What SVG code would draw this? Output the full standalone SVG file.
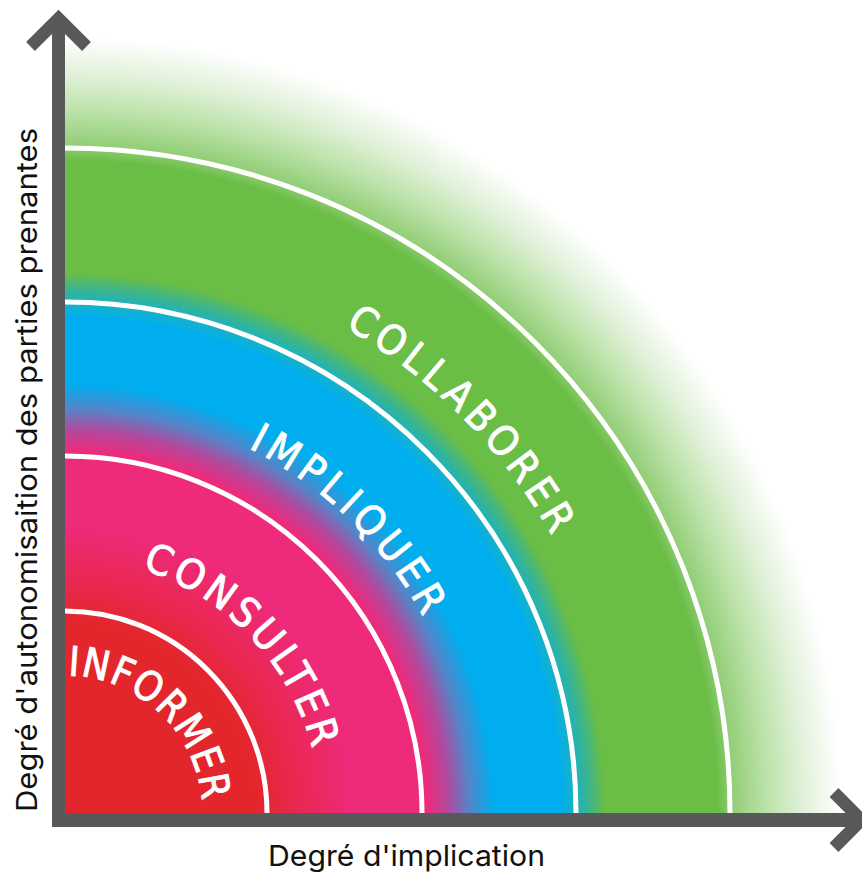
<svg xmlns="http://www.w3.org/2000/svg" width="862" height="872" viewBox="0 0 862 872">
  <style>
    .sep { fill: none; stroke: #FFFFFF; stroke-width: 5; }
    .lbl { font-family: "Liberation Sans Narrow", "DejaVu Sans Condensed", "Roboto Condensed", Roboto, sans-serif; font-stretch: condensed; font-weight: 400; font-size: 41px; fill: #FFFFFF; stroke: #FFFFFF; stroke-width: 0.9; }
    .axis { fill: #58595B; }
    .chev { fill: none; stroke: #58595B; stroke-width: 12.5; stroke-linejoin: miter; stroke-linecap: butt; }
    .ax-lbl { font-family: Inter, "Liberation Sans", sans-serif; font-size: 29px; fill: #111111; }
  </style>
  <defs>
    <radialGradient id="bands" cx="65" cy="813" r="780" fx="65" fy="813" gradientUnits="userSpaceOnUse">
      <stop offset="0" stop-color="#E3262B"/>
      <stop offset="0.245" stop-color="#E3262B"/>
      <stop offset="0.29" stop-color="#E8284C"/>
      <stop offset="0.37" stop-color="#EE2A7B"/>
      <stop offset="0.464" stop-color="#EE2A7B"/>
      <stop offset="0.492" stop-color="#B04A9E"/>
      <stop offset="0.518" stop-color="#5584C8"/>
      <stop offset="0.55" stop-color="#00AEEF"/>
      <stop offset="0.636" stop-color="#00AEEF"/>
      <stop offset="0.656" stop-color="#1DB2BE"/>
      <stop offset="0.673" stop-color="#3DB58A"/>
      <stop offset="0.692" stop-color="#6ABD45"/>
      <stop offset="0.836" stop-color="#6ABD45"/>
      <stop offset="0.856" stop-color="#92CE77"/>
      <stop offset="0.9" stop-color="#BCE2A9"/>
      <stop offset="0.945" stop-color="#E0F1D8"/>
      <stop offset="0.995" stop-color="#FFFFFF"/>
    </radialGradient>
    <path id="p-informer" d="M 65,675.5 A 137.5 137.5 0 0 1 202.5,813"/>
    <path id="p-consulter" d="M 65,557.5 A 255.5 255.5 0 0 1 320.5,813"/>
    <path id="p-impliquer" d="M 65,404.5 A 408.5 408.5 0 0 1 473.5,813"/>
    <path id="p-collaborer" d="M 65,252.5 A 560.5 560.5 0 0 1 625.5,813"/>
  </defs>

  <rect x="0" y="0" width="862" height="872" fill="#FFFFFF"/>

  <g id="rings">
    <rect x="65" y="33" width="780" height="780" fill="url(#bands)"/>
    <path class="sep" d="M 65,611 A 202 202 0 0 1 267,813"/>
    <path class="sep" d="M 65,456 A 357 357 0 0 1 422,813"/>
    <path class="sep" d="M 65,302 A 511 511 0 0 1 576,813"/>
    <path class="sep" d="M 65,148 A 665 665 0 0 1 730,813"/>
  </g>

  <g id="informer">
    <text class="lbl" letter-spacing="1.5"><textPath href="#p-informer" startOffset="3" textLength="202" lengthAdjust="spacingAndGlyphs">INFORMER</textPath></text>
  </g>
  <g id="consulter">
    <text class="lbl" letter-spacing="4"><textPath href="#p-consulter" startOffset="78" textLength="262" lengthAdjust="spacingAndGlyphs">CONSULTER</textPath></text>
  </g>
  <g id="impliquer">
    <text class="lbl" letter-spacing="5.5"><textPath href="#p-impliquer" startOffset="190" textLength="252" lengthAdjust="spacingAndGlyphs">IMPLIQUER</textPath></text>
  </g>
  <g id="collaborer">
    <text class="lbl" letter-spacing="5"><textPath href="#p-collaborer" startOffset="293" textLength="302" lengthAdjust="spacingAndGlyphs">COLLABORER</textPath></text>
  </g>

  <g id="axes">
    <rect class="axis" x="52" y="18" width="13" height="809"/>
    <rect class="axis" x="52" y="813" width="812" height="14"/>
    <polyline class="chev" points="30.5,46.5 58.5,18.5 86.5,46.5"/>
    <polyline class="chev" points="834,792.5 861.5,820 834,847.5"/>
  </g>

  <g id="axis-labels">
    <text class="ax-lbl" x="268" y="866" textLength="277" lengthAdjust="spacingAndGlyphs">Degré d'implication</text>
    <text class="ax-lbl" transform="translate(37,812) rotate(-90)" x="0" y="0" textLength="684" lengthAdjust="spacingAndGlyphs">Degré d'autonomisaition des parties prenantes</text>
  </g>
</svg>
